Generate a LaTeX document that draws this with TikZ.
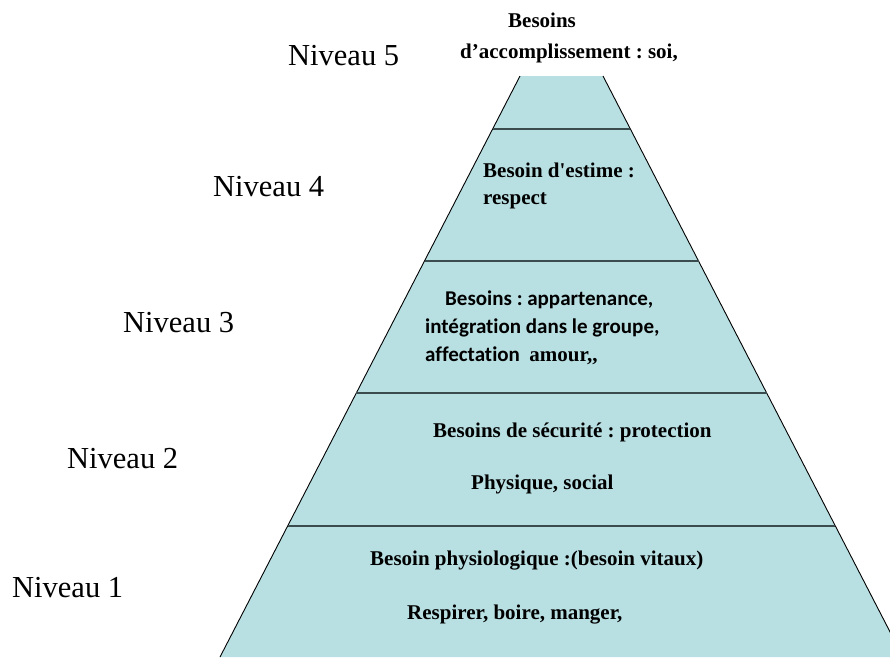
\documentclass[tikz,border=0pt]{standalone}
\usepackage{fontspec}
\setmainfont{Liberation Serif}
\newfontfamily\calfont[Ligatures=CommonOff]{Carlito}
\definecolor{layerfill}{HTML}{B8DFE2}
\definecolor{layerline}{HTML}{3A4C4E}
\frenchspacing
\begin{document}
\begin{tikzpicture}[x=1pt,y=-1pt,
  level/.style={anchor=base west,inner sep=0pt,font=\fontsize{30.5}{32}\selectfont},
  need/.style={anchor=base west,inner sep=0pt,font=\fontsize{21}{24}\selectfont\bfseries},
  needsans/.style={anchor=base west,inner sep=0pt,font=\fontsize{21}{24}\selectfont\calfont\bfseries},
  side/.style={draw=black,line width=0.9pt},
  divider/.style={draw=layerline,line width=2pt}]
\clip (0,0) rectangle (890,657);
% pyramid body (apex cut flat, base runs past the right edge)
\coordinate (tl) at (520,76);
\coordinate (tr) at (603,76);
\coordinate (bl) at (220,657);
\coordinate (br) at (903,657);
\fill[layerfill] (tl) -- (tr) -- (br) -- (bl) -- cycle;
\draw[side] (tl) -- (bl);
\draw[side] (tr) -- (br);
% dividers between the levels
\coordinate (d4l) at (492.6,129);  \coordinate (d4r) at (630.4,129);
\coordinate (d3l) at (424.5,261);  \coordinate (d3r) at (698.5,261);
\coordinate (d2l) at (356.3,393);  \coordinate (d2r) at (766.7,393);
\coordinate (d1l) at (287.6,526);  \coordinate (d1r) at (835.4,526);
\draw[divider] (d4l) -- (d4r);
\draw[divider] (d3l) -- (d3r);
\draw[divider] (d2l) -- (d2r);
\draw[divider] (d1l) -- (d1r);
% level labels
\node[level] (n5) at (288,65) {Niveau 5};
\node[level] (n4) at (213,196) {Niveau 4};
\node[level] (n3) at (123,332) {Niveau 3};
\node[level] (n2) at (67,468) {Niveau 2};
\node[level] (n1) at (12,597) {Niveau 1};
% needs
\node[need] (t5a) at (508,27) {Besoins};
\node[need] (t5b) at (460,58) {d’accomplissement : soi,};
\node[need] (t4a) at (483,177) {Besoin d\textquotesingle estime :};
\node[need] (t4b) at (483,204) {respect};
\node[needsans] (t3a) at (445,305) {Besoins : appartenance,};
\node[needsans] (t3b) at (425,333) {intégration dans le groupe,};
\node[needsans] (t3c) at (425,361) {affectation\ \ {\fontspec{Liberation Serif}\bfseries amour,,}};
\node[need] (t2a) at (433,437) {Besoins de sécurité : protection};
\node[need] (t2b) at (471,489) {Physique, social};
\node[need] (t1a) at (370,565) {Besoin physiologique :(besoin vitaux)};
\node[need] (t1b) at (407,619) {Respirer, boire, manger,};
\end{tikzpicture}
\end{document}
